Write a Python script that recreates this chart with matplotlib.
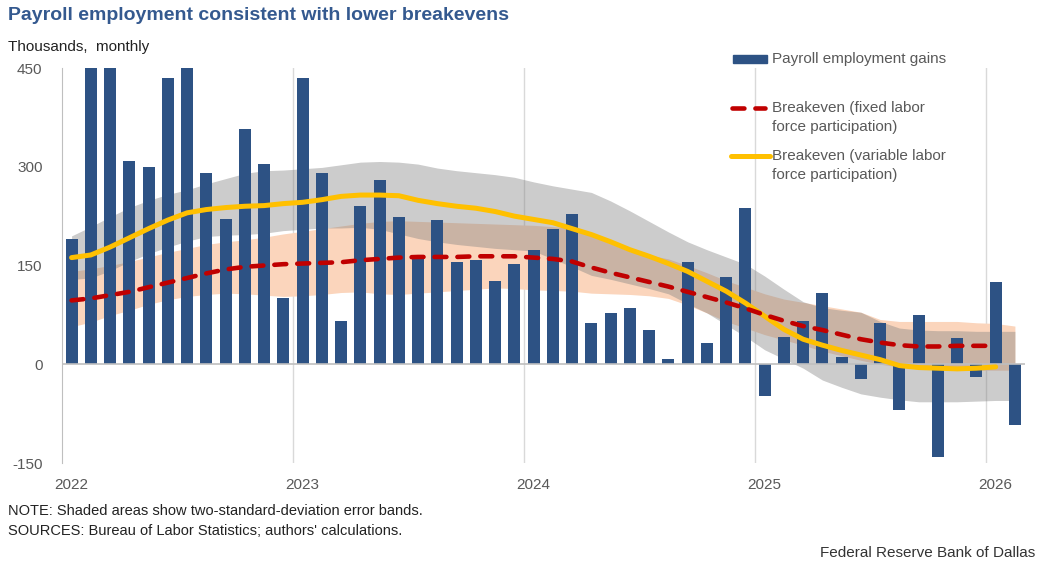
import numpy as np
import matplotlib
matplotlib.use('Agg')
import matplotlib.pyplot as plt
from matplotlib.lines import Line2D
from matplotlib.patches import Rectangle

plt.rcParams['font.family'] = ['Liberation Sans', 'DejaVu Sans']
plt.rcParams['axes.unicode_minus'] = False

# monthly, Jan 2022 .. Feb 2026 (thousands)
months = np.arange(50)
year_labels = ['2022', '2023', '2024', '2025', '2026']

gains = [190, 450, 450, 308, 300, 435, 450, 290, 220, 357, 304, 100,
         435, 290, 66, 240, 280, 224, 163, 219, 156, 159, 127, 153,
         174, 206, 228, 63, 78, 85, 52, 8, 155, 32, 133, 237,
         -48, 41, 66, 108, 11, -22, 63, -70, 75, -141, 40, -19,
         125, -93]

# breakeven lines end in Jan 2026
be_fixed = [97, 100, 105, 110, 117, 124, 131, 138, 144, 148, 150, 152,
            153, 154, 155, 158, 160, 162, 163, 163, 163, 164, 164, 164,
            162, 160, 156, 147, 139, 132, 125, 118, 110, 102, 94, 85,
            75, 66, 58, 52, 45, 38, 33, 29, 27, 27, 28, 28,
            28]
be_var = [162, 166, 178, 192, 206, 219, 230, 235, 238, 240, 241, 244,
          246, 250, 255, 257, 257, 256, 249, 244, 240, 237, 232, 225,
          220, 215, 206, 197, 186, 174, 164, 153, 141, 126, 111, 93,
          73, 53, 38, 29, 21, 14, 7, -2, -5, -6, -7, -6,
          -4]

# two-standard-deviation bands
fixed_hi = [141, 145, 150, 156, 163, 170, 176, 182, 186, 189, 193, 198,
            202, 206, 210, 214, 217, 218, 217, 216, 215, 214, 213, 212,
            211, 209, 207, 195, 183, 171, 166, 160, 150, 139, 127, 117,
            107, 99, 94, 89, 84, 79, 68, 65, 65, 65, 65, 63,
            62, 58]
fixed_lo = [57, 64, 74, 82, 91, 98, 103, 106, 108, 107, 105, 103,
            104, 106, 109, 110, 107, 106, 108, 110, 112, 114, 116, 115,
            113, 112, 111, 108, 107, 106, 104, 100, 90, 78, 65, 55,
            45, 37, 29, 20, 13, 6, 0, -4, -7, -8, -9, -9,
            -9, -9]
var_hi = [195, 209, 224, 238, 249, 258, 265, 274, 282, 290, 294, 295,
          297, 299, 303, 307, 308, 307, 304, 298, 294, 291, 288, 284,
          277, 271, 266, 261, 248, 233, 217, 201, 186, 174, 163, 152,
          134, 114, 95, 86, 82, 79, 65, 55, 52, 51, 51, 50,
          50, 50]
var_lo = [129, 131, 142, 156, 168, 178, 187, 194, 196, 197, 199, 203,
          205, 207, 207, 208, 205, 198, 191, 186, 182, 179, 176, 174,
          172, 160, 148, 135, 129, 122, 115, 107, 92, 78, 60, 42,
          22, 8, -6, -24, -35, -45, -50, -54, -57, -57, -57, -56,
          -55, -55]

fig = plt.figure(figsize=(10.43, 5.70), dpi=100)
ax = fig.add_axes([0.0594, 0.1877, 0.9229, 0.6930])

ax.fill_between(months, fixed_lo, fixed_hi, color='#fbd5bc', lw=0, zorder=1)
ax.fill_between(months, var_lo, var_hi, color='#808080', alpha=0.4, lw=0, zorder=1.1)
ax.bar(months, gains, width=0.62, color='#2d5284', zorder=2)
n = len(be_fixed)
ax.plot(months[:n], be_var, color='#ffc000', lw=3.6, solid_capstyle='round', zorder=3)
ax.plot(months[:n], be_fixed, color='#c00000', lw=3.3, dashes=(2.6, 2.4),
        dash_capstyle='round', zorder=4)

ax.set_xlim(-0.5, 49.5)
ax.set_ylim(-150, 450)
ax.set_yticks([-150, 0, 150, 300, 450])
ax.tick_params(axis='y', length=0, pad=14, labelsize=11, labelcolor='#595959')
ax.set_xticks([0, 12, 24, 36, 48])
ax.set_xticklabels(year_labels)
ax.tick_params(axis='x', length=0, pad=11, labelsize=11, labelcolor='#595959')
for b in [11.5, 23.5, 35.5, 47.5]:
    ax.axvline(b, color='#d9d9d9', lw=1, zorder=0)
ax.axhline(0, color='#bfbfbf', lw=1.2, zorder=2.5)
for s in ['top', 'right', 'bottom']:
    ax.spines[s].set_visible(False)
ax.spines['left'].set_color('#bfbfbf')

# legend, drawn by hand in figure pixels
W, H = 1043, 570
def fx(px): return px / W
def fy(py): return 1 - py / H
fig.add_artist(Rectangle((fx(733), fy(62.5)), fx(767) - fx(733), 7 / H,
                         color='#2d5284', transform=fig.transFigure))
fig.add_artist(Line2D([fx(732), fx(765)], [fy(108), fy(108)], color='#c00000', lw=3.3,
                      dashes=(2.6, 2.4), dash_capstyle='round', transform=fig.transFigure))
fig.add_artist(Line2D([fx(731), fx(770)], [fy(156), fy(156)], color='#ffc000', lw=3.6,
                      solid_capstyle='round', transform=fig.transFigure))
leg_kw = dict(fontsize=11, color='#595959', va='center', ha='left')
fig.text(fx(772), fy(59), 'Payroll employment gains', **leg_kw)
fig.text(fx(772), fy(108), 'Breakeven (fixed labor', **leg_kw)
fig.text(fx(772), fy(127), 'force participation)', **leg_kw)
fig.text(fx(772), fy(156), 'Breakeven (variable labor', **leg_kw)
fig.text(fx(772), fy(175), 'force participation)', **leg_kw)

fig.text(fx(8), fy(16), 'Payroll employment consistent with lower breakevens',
         fontsize=14, fontweight='bold', color='#34598f', va='center')
fig.text(fx(8), fy(47), 'Thousands,  monthly', fontsize=11, color='#222222', va='center')
fig.text(fx(8), fy(511), 'NOTE: Shaded areas show two-standard-deviation error bands.',
         fontsize=10.5, color='#222222', va='center')
fig.text(fx(8), fy(531), "SOURCES: Bureau of Labor Statistics; authors' calculations.",
         fontsize=10.5, color='#222222', va='center')
fig.text(fx(1035), fy(553), 'Federal Reserve Bank of Dallas', fontsize=11,
         color='#333333', va='center', ha='right')

fig.savefig('out.png', dpi=100)
